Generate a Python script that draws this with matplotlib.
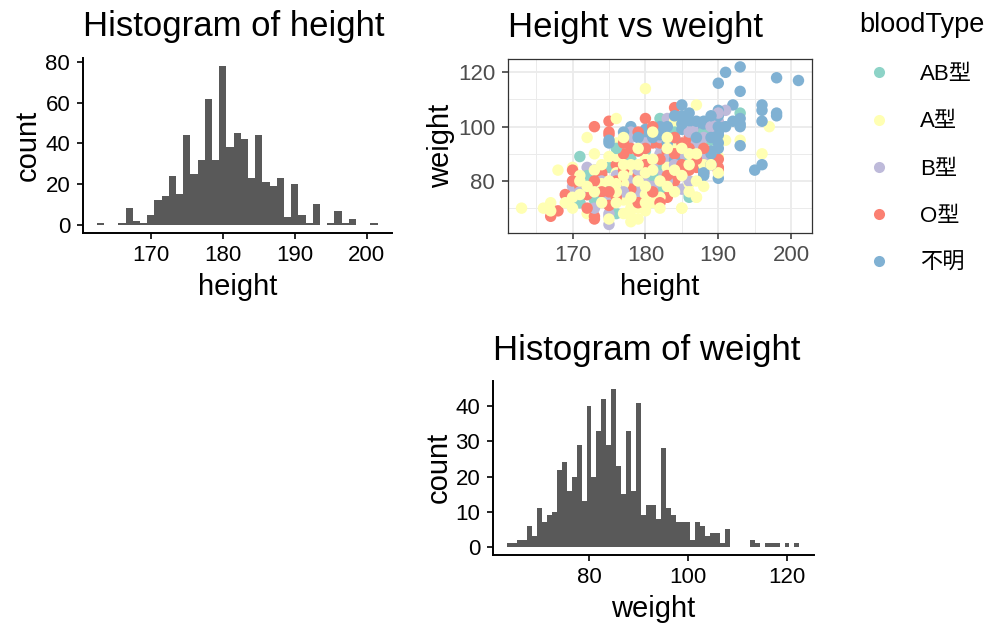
import numpy as np
import matplotlib
matplotlib.use('Agg')
import matplotlib.pyplot as plt
from matplotlib.lines import Line2D

plt.rcParams['font.family'] = ['Liberation Sans', 'Noto Sans CJK JP', 'DejaVu Sans']

# histogram of height (bin centre -> count, binwidth 1)
height_bins = list(range(163, 202))
height_counts = [1, 0, 0, 1, 8, 2, 1, 5, 12, 14, 24, 15, 44, 25, 32, 62, 32, 78, 38, 45,
                 42, 23, 44, 21, 19, 23, 4, 20, 5, 1, 10, 0, 1, 7, 1, 3, 0, 0, 1]

# histogram of weight (bin centre -> count, binwidth 1)
weight_bins = list(range(64, 123))
weight_counts = [1, 1, 2, 2, 6, 3, 11, 7, 9, 10, 22, 24, 16, 20, 29, 13, 40, 20, 33, 42,
                 29, 45, 23, 15, 33, 16, 41, 9, 12, 12, 8, 28, 11, 9, 7, 7, 7, 2, 7, 6,
                 3, 4, 4, 1, 5, 0, 0, 0, 0, 2, 1, 0, 1, 1, 1, 0, 1, 0, 1]

# scatter points by blood type
ab_h = [171, 193, 180, 182, 182, 175, 176, 182, 171, 186, 189, 183, 182, 180, 178, 175, 173, 189, 186, 182,
        174, 177, 179, 181, 183, 185, 184, 180, 178, 176, 172, 187, 182, 186, 188]
ab_w = [89, 105, 98, 103, 94, 78, 68, 77, 72, 75, 95, 85, 98, 91, 88, 85, 73, 98, 74, 77,
        84, 80, 78, 82, 86, 88, 98, 84, 82, 92, 82, 96, 86, 88, 98]

a_h = [180, 187, 197, 196, 193, 191, 190, 188, 187, 185, 184, 176, 172, 168, 163, 166, 167, 167,
       170, 170, 172, 179, 178, 180, 176, 180, 182, 178, 176, 178, 173, 176, 177, 178, 181, 182,
       180, 179, 177, 174, 184, 186, 183, 188, 190, 171, 178, 180, 176, 175, 180, 186, 185, 187,
       171, 173, 174, 175, 176, 177, 178, 179, 180, 181, 182, 183, 184, 185, 186, 187, 183, 181,
       179, 177, 174, 172, 170, 169, 176, 178, 180, 182, 184, 186, 188, 185, 183, 181, 179, 177,
       173, 171, 175, 177, 186, 189, 187, 178]
a_w = [114, 108, 100, 90, 95, 95, 89, 95, 74, 70, 102, 103, 96, 84, 70, 70, 72, 69,
       70, 85, 68, 66, 67, 88, 89, 69, 73, 83, 94, 84, 84, 83, 73, 70, 72, 74,
       75, 70, 79, 79, 93, 80, 85, 86, 83, 82, 72, 70, 79, 89, 83, 79, 70, 74,
       75, 76, 72, 80, 76, 82, 86, 80, 78, 84, 80, 78, 84, 82, 86, 90, 92, 88,
       86, 86, 86, 78, 74, 72, 72, 74, 72, 70, 76, 76, 78, 92, 96, 98, 92, 96,
       90, 80, 66, 68, 90, 86, 80, 65]

b_h = [175, 175, 170, 173, 171, 178, 183, 191, 190, 187, 188, 180, 182, 185, 179, 182, 182, 172,
       172, 175, 180, 182, 190, 187, 172, 173, 175, 179, 180, 178,
       174, 176, 178, 180, 181, 183, 185, 184, 186, 188, 187, 189, 177, 176, 179, 181, 182, 178,
       173, 171, 184, 180, 183, 186]
b_w = [64, 67, 78, 78, 72, 96, 103, 106, 102, 100, 88, 79, 85, 77, 74, 93, 90, 85,
       80, 74, 80, 83, 105, 88, 79, 84, 68, 76, 83, 74,
       80, 82, 80, 76, 86, 88, 90, 94, 98, 96, 94, 100, 76, 78, 84, 78, 96, 98,
       70, 76, 86, 94, 80, 80]

o_h = [173, 175, 175, 180, 184, 183, 186, 187, 187, 190, 169, 167, 168, 167, 172, 173, 174, 176,
       178, 181, 183, 182, 183, 175, 181, 179, 177, 174, 175, 173, 184, 183, 183, 190, 188, 170,
       172, 178, 190,
       171, 174, 176, 177, 179, 180, 182, 184, 185, 186, 181, 179, 176, 173, 170, 183, 185, 187,
       181, 179, 177, 178, 184, 186, 182, 172, 175, 180, 188]
o_w = [100, 102, 98, 103, 107, 99, 96, 92, 85, 85, 75, 70, 69, 67, 75, 66, 82, 86,
       77, 81, 88, 94, 91, 97, 94, 91, 90, 83, 71, 67, 80, 90, 74, 88, 83, 84,
       75, 77, 84,
       78, 76, 80, 84, 82, 86, 88, 90, 94, 92, 76, 72, 74, 80, 80, 82, 86, 88,
       100, 98, 94, 92, 96, 84, 72, 70, 76, 92, 92]

na_h = [190, 191, 193, 198, 201, 193, 192, 196, 196, 196, 198, 198, 193, 193, 193, 195, 196, 190,
        190, 190, 190, 190, 189, 188, 188, 185, 185, 186, 185, 185, 178, 175, 180, 183, 188, 188,
        175, 180, 185, 188, 190, 193, 184, 189, 188,
        182, 184, 186, 187, 189, 189, 187, 184, 182, 186, 183, 181, 189, 190, 191, 192, 190, 179, 177]
na_w = [116, 120, 122, 118, 117, 113, 108, 108, 106, 102, 105, 104, 103, 100, 93, 84, 86, 106,
        104, 98, 94, 81, 91, 100, 102, 108, 104, 102, 99, 88, 100, 95, 95, 100, 84, 82,
        94, 99, 101, 101, 97, 101, 88, 90, 83,
        100, 104, 105, 102, 104, 96, 96, 96, 97, 90, 94, 96, 86, 92, 100, 102, 100, 96, 98]

blood_types = ['AB型', 'A型', 'B型', 'O型', '不明']
blood_colors = ['#8DD3C7', '#FFFFB3', '#BEBADA', '#FB8072', '#80B1D3']

hist_color = '#595959'

fig = plt.figure(figsize=(9.98, 6.32), dpi=100)

W, H = 998.0, 632.0
def box(left, top, right, bottom):
    return [left / W, 1 - bottom / H, (right - left) / W, (bottom - top) / H]

def classic(ax):
    for s in ['top', 'right']:
        ax.spines[s].set_visible(False)
    for s in ['left', 'bottom']:
        ax.spines[s].set_linewidth(1.4)
        ax.spines[s].set_color('black')
    ax.tick_params(length=4, width=1.2, color='black', labelsize=16, labelcolor='black', pad=5)

# height histogram
ax1 = fig.add_axes(box(82.7, 58, 391.7, 232.7))
ax1.bar(height_bins, height_counts, width=1, color=hist_color, linewidth=0)
ax1.set_xlim(160.55, 203.45)
ax1.set_ylim(-0.05 * 78, 78 * 1.05)
ax1.set_xticks([170, 180, 190, 200])
ax1.set_yticks([0, 20, 40, 60, 80])
classic(ax1)
ax1.set_xlabel('height', fontsize=21, labelpad=5)
ax1.set_ylabel('count', fontsize=21, labelpad=3)
ax1.set_title('Histogram of height', fontsize=25, pad=16, loc='left')

# weight histogram
ax3 = fig.add_axes(box(492.7, 381, 814, 554.5))
ax3.bar(weight_bins, weight_counts, width=1, color=hist_color, linewidth=0)
ax3.set_xlim(60.55, 125.45)
ax3.set_ylim(-0.05 * 45, 45 * 1.05)
ax3.set_xticks([80, 100, 120])
ax3.set_yticks([0, 10, 20, 30, 40])
classic(ax3)
ax3.set_xlabel('weight', fontsize=21, labelpad=5)
ax3.set_ylabel('count', fontsize=21, labelpad=2)
ax3.set_title('Histogram of weight', fontsize=25, pad=15, loc='left')

# scatter
ax2 = fig.add_axes(box(507.7, 59.3, 812.3, 232.7))
groups = [(ab_h, ab_w), (a_h, a_w), (b_h, b_w), (o_h, o_w), (na_h, na_w)]
xs, ys, cs = [], [], []
longest = max(len(g[0]) for g in groups)
for i in range(longest):
    for (gh, gw), col in zip(groups, blood_colors):
        if i < len(gh):
            xs.append(gh[i])
            ys.append(gw[i])
            cs.append(col)
ax2.scatter(xs, ys, c=cs, s=68, linewidths=0, zorder=3)
ax2.set_xlim(161.1, 202.9)
ax2.set_ylim(60.96, 124.8)
ax2.set_xticks([170, 180, 190, 200])
ax2.set_xticks([165, 175, 185, 195], minor=True)
ax2.set_yticks([80, 100, 120])
ax2.set_yticks([70, 90, 110], minor=True)
ax2.grid(True, which='major', color='#EBEBEB', linewidth=1.3, zorder=0)
ax2.grid(True, which='minor', color='#EBEBEB', linewidth=0.7, zorder=0)
ax2.set_axisbelow(True)
for s in ax2.spines.values():
    s.set_color('#333333')
    s.set_linewidth(0.9)
ax2.tick_params(which='major', length=4, width=1.1, color='#333333', labelsize=16,
                labelcolor='#4D4D4D', pad=5)
ax2.tick_params(which='minor', length=0)
ax2.set_xlabel('height', fontsize=21, labelpad=5)
ax2.set_ylabel('weight', fontsize=21, labelpad=2)
ax2.set_title('Height vs weight', fontsize=25, pad=16, loc='left')

handles = [Line2D([], [], marker='o', linestyle='', markersize=8,
                  markerfacecolor=c, markeredgewidth=0) for c in blood_colors]
leg = fig.legend(handles, blood_types, title='bloodType', loc='upper left',
                 bbox_to_anchor=(850 / W, 1 - 3 / H), frameon=False, fontsize=16,
                 title_fontsize=19.5, labelspacing=1.18, handletextpad=0.9,
                 handlelength=1.84, borderaxespad=0)
leg._legend_box.align = 'left'

fig.savefig('out.png', dpi=100)
